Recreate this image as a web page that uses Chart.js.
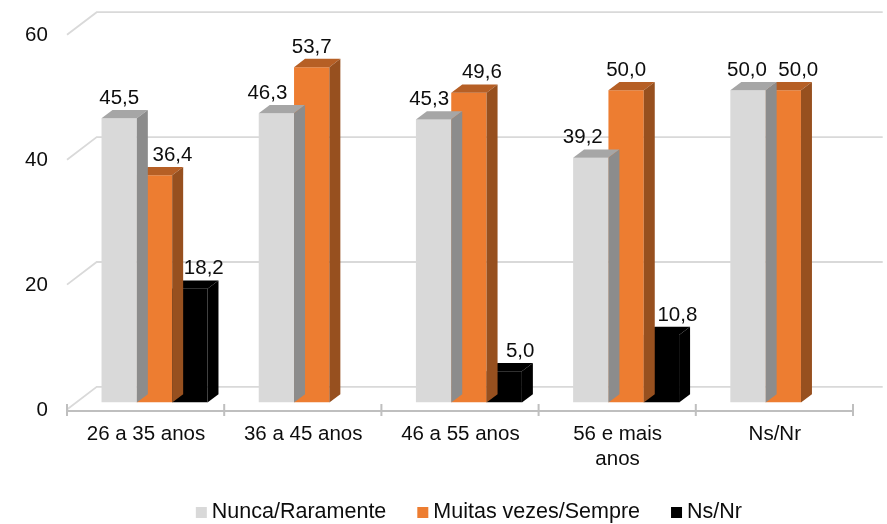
<!DOCTYPE html>
<html>
<head>
<meta charset="utf-8">
<style>
  html, body { margin: 0; padding: 0; background: #ffffff; }
  #wrap { width: 887px; height: 524px; }
</style>
<script src="https://cdn.jsdelivr.net/npm/chart.js@4/dist/chart.umd.min.js"></script>
</head>
<body>
<div id="wrap"><canvas id="c" width="887" height="524"></canvas></div>
<script>
// Age groups and answer shares (%)
const categories = ['26 a 35 anos', '36 a 45 anos', '46 a 55 anos', ['56 e mais', 'anos'], 'Ns/Nr'];
const seriesNames = ['Nunca/Raramente', 'Muitas vezes/Sempre', 'Ns/Nr'];
const nuncaRaramente = [45.5, 46.3, 45.3, 39.2, 50.0];
const muitasVezesSempre = [36.4, 53.7, 49.6, 50.0, 50.0];
const nsNr = [18.2, null, 5.0, 10.8, null];
const yTickValues = [0, 20, 40, 60];

// Horizontal nudges for value labels so they clear neighbouring bars
const labelNudgeX = [
  [0, -9, -4.5, -8, -1],
  [18, 0, 13, 0, 15],
  [14, 0, 16, 16, 0]
];

const FONT = '"Liberation Sans", Arial, Helvetica, sans-serif';

// Faces of the extruded bars: front, top, side
const shades = [
  { front: '#d9d9d9', top: '#a6a6a6', side: '#8c8c8c' },
  { front: '#ed7d31', top: '#b65f25', side: '#97501f' },
  { front: '#000000', top: '#000000', side: '#000000' }
];

const BAR_DX = 11, BAR_DY = -8.3;     // depth of each bar
const WALL_DX = 29.7, WALL_DY = -22.6; // depth of the floor/back wall
const EDGE_DX = -8.9, EDGE_DY = 7;     // front floor edge relative to bar faces

function poly(ctx, pts) {
  ctx.beginPath();
  ctx.moveTo(pts[0][0], pts[0][1]);
  for (let i = 1; i < pts.length; i++) ctx.lineTo(pts[i][0], pts[i][1]);
  ctx.closePath();
  ctx.fill();
}

const fmt = v => v.toFixed(1).replace('.', ',');

const perspective = {
  id: 'perspective',
  beforeDatasetsDraw(chart) {
    const { ctx, chartArea: a, scales: { y } } = chart;
    const x0 = a.left + EDGE_DX, x1 = a.right + EDGE_DX;
    ctx.save();
    // back wall gridlines with their floor diagonals
    ctx.strokeStyle = '#d9d9d9';
    ctx.lineWidth = 1.8;
    y.ticks.forEach(t => {
      const fy = y.getPixelForValue(t.value) + EDGE_DY;
      ctx.beginPath();
      ctx.moveTo(x0, fy);
      ctx.lineTo(x0 + WALL_DX, fy + WALL_DY);
      ctx.lineTo(x1 + WALL_DX, fy + WALL_DY);
      ctx.stroke();
    });
    // front category axis with boundary ticks
    const ay = y.getPixelForValue(0) + EDGE_DY + 1.5;
    ctx.strokeStyle = '#bfbfbf';
    ctx.lineWidth = 2;
    ctx.beginPath();
    ctx.moveTo(x0, ay);
    ctx.lineTo(x1, ay);
    const n = chart.data.labels.length;
    for (let i = 0; i <= n; i++) {
      const tx = x0 + (x1 - x0) * i / n;
      ctx.moveTo(tx, ay - 7);
      ctx.lineTo(tx, ay + 5);
    }
    ctx.stroke();
    ctx.restore();
  },
  afterDatasetDraw(chart, args) {
    const { ctx } = chart;
    const s = shades[args.index];
    const values = chart.data.datasets[args.index].data;
    ctx.save();
    args.meta.data.forEach((bar, i) => {
      if (values[i] == null) return;
      const { x, y, base, width } = bar.getProps(['x', 'y', 'base', 'width'], true);
      const l = x - width / 2, r = x + width / 2;
      ctx.fillStyle = s.top;
      poly(ctx, [[l, y], [l + BAR_DX, y + BAR_DY], [r + BAR_DX, y + BAR_DY], [r, y]]);
      ctx.fillStyle = s.side;
      poly(ctx, [[r, y], [r + BAR_DX, y + BAR_DY], [r + BAR_DX, base + BAR_DY], [r, base]]);
    });
    ctx.restore();
  },
  afterDatasetsDraw(chart) {
    const { ctx } = chart;
    ctx.save();
    ctx.font = '20.5px ' + FONT;
    ctx.fillStyle = '#0d0d0d';
    ctx.textAlign = 'center';
    ctx.textBaseline = 'alphabetic';
    chart.data.datasets.forEach((ds, di) => {
      const meta = chart.getDatasetMeta(di);
      meta.data.forEach((bar, i) => {
        const v = ds.data[i];
        if (v == null) return;
        const { x, y } = bar.getProps(['x', 'y'], true);
        ctx.fillText(fmt(v), x + labelNudgeX[di][i], y - 14.5);
      });
    });
    ctx.restore();
  },
  afterDraw(chart) {
    // legend row under the axis
    const { ctx, chartArea: a } = chart;
    ctx.save();
    ctx.font = '21.5px ' + FONT;
    ctx.textBaseline = 'middle';
    ctx.textAlign = 'left';
    const box = 11, gap = 5, spacing = 31;
    const widths = seriesNames.map(t => ctx.measureText(t).width);
    const total = widths.reduce((s, w) => s + box + gap + w, 0) + spacing * (seriesNames.length - 1);
    let x = (a.left + a.right) / 2 - total / 2;
    const cy = 512;
    seriesNames.forEach((t, i) => {
      ctx.fillStyle = shades[i].front;
      ctx.fillRect(x, cy - box / 2 + 0.5, box, box);
      x += box + gap;
      ctx.fillStyle = '#0d0d0d';
      ctx.fillText(t, x, cy);
      x += widths[i] + spacing;
    });
    ctx.restore();
  }
};

const datasets = [nuncaRaramente, muitasVezesSempre, nsNr].map((d, i) => ({
  label: seriesNames[i],
  data: d,
  backgroundColor: shades[i].front,
  borderWidth: 0,
  categoryPercentage: 0.674,
  barPercentage: 1
}));

new Chart(document.getElementById('c'), {
  type: 'bar',
  data: { labels: categories, datasets },
  plugins: [perspective],
  options: {
    responsive: false,
    devicePixelRatio: 1,
    animation: false,
    layout: { padding: { top: 27.8, right: 25.1, bottom: 0, left: 0 } },
    plugins: {
      legend: { display: false },
      tooltip: { enabled: false }
    },
    scales: {
      x: {
        grid: { display: false, drawTicks: false },
        border: { display: false },
        ticks: {
          font: { family: FONT, size: 20.5 },
          color: '#0d0d0d',
          padding: 19.5,
          labelOffset: -8.5,
          maxRotation: 0,
          autoSkip: false
        },
        afterFit(scale) { scale.height = 121.5; }
      },
      y: {
        min: 0,
        max: 60,
        afterBuildTicks(scale) { scale.ticks = yTickValues.map(v => ({ value: v })); },
        // tick length (not drawn) spaces the labels away from the plot
        grid: { display: false, drawTicks: true, tickLength: 28, color: 'rgba(0,0,0,0)' },
        border: { display: false },
        ticks: {
          font: { family: FONT, size: 20.5 },
          color: '#0d0d0d',
          padding: 0,
          labelOffset: 8
        },
        afterFit(scale) { scale.width = 75.9; }
      }
    }
  }
});
</script>
</body>
</html>
